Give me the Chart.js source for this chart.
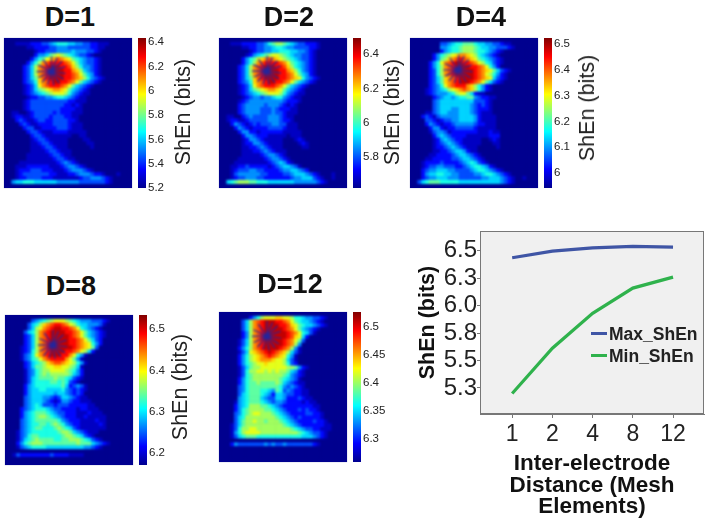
<!DOCTYPE html>
<html>
<head>
<meta charset="utf-8">
<title>ShEn vs inter-electrode distance</title>
<script src="https://cdn.jsdelivr.net/npm/chart.js@4"></script>
<style>
html, body { margin: 0; padding: 0; background: #fff; }
#page { position: relative; width: 709px; height: 522px; overflow: hidden; font-family: "Liberation Sans", Arial, sans-serif; }
#page canvas { position: absolute; }
.map { position: absolute; overflow: hidden; background: #00008f; box-shadow: 0 0 1px #8f93c8; }
.map canvas { filter: blur(1px); left: 0; top: 0; }
.ttl { position: absolute; font-weight: bold; font-size: 27px; line-height: 30px; transform: translateX(-50%); color: #111; white-space: nowrap; }
.bar { position: absolute; font-size: 21.5px; line-height: 24px; color: #222; white-space: nowrap; transform: translate(-50%, -50%) rotate(-90deg); }
.lgd { position: absolute; font-weight: bold; font-size: 17.5px; line-height: 20px; color: #222; white-space: nowrap; }
.lgl { position: absolute; width: 16px; height: 3px; }
</style>
</head>
<body>
<div id="page"></div>
<script>
// heat levels, one hex digit per cell: 0 = bottom of colour bar, f = top
const heatD1 = [
'00111122233456665544332211100000',
'00000112222334443333332211000000',
'00000001223334444544433210000000',
'00000002445789876543321000000000',
'00000024679abcba9765433210000000',
'000002468bcddddcb975433210000000',
'00002358bcdeeeddca86443210000000',
'00002358bcdeeeeddba8543210000000',
'00002358bcdeeeeddcb9754210000000',
'00002357acdeeeeddcba864321000000',
'00002346abcdeeddcb97543210000000',
'000012359bcdddcb9754321000000000',
'00001235789abba97543210000000000',
'00001234567899986432110000000000',
'00000122334456654321100000000000',
'00001233333333332211100000000000',
'00001233333333322121000000000000',
'00001233333333222211000000000000',
'01100123333323222111000000000000',
'01221123333233322110000000000000',
'00232112332233332210000000000000',
'00023211222233332111000000000000',
'00002331122223332111000000000000',
'00000233211122221111100000000000',
'00000023321111111001100000000000',
'00000012332111110000110000000000',
'00000011233211110000011000000000',
'00000011123321110000001000000000',
'00000011112332111000000000000000',
'00000111111233211000000000000000',
'00000111111123321100000000000000',
'00011111111112343210000000000000',
'00111222222111234432100000000000',
'00122233322211123444321000000000',
'00123333333221112234443221000100',
'00122333322211111112334443210000',
'04556665555554444443333333210000'];
const heatD2 = [
'00111222233467887654332221000000',
'00000112233445665443333221000000',
'00000001233445566655443210000000',
'00000012456789987654433210000000',
'0000024679abcba98765433210000000',
'000002468bcddddcb976543210000000',
'00002358bcdeeeddca86543210000000',
'00002358bcdeeeeddba8643210000000',
'00002358bcdeeeeddcb9754210000000',
'00002357acdeeeeddcba964321000000',
'00002346abcdeeddcb97543210000000',
'000012359bcdddcb9754321000000000',
'00001235789abba97543210000000000',
'00001234567899986432110000000000',
'00000123443445664321100000000000',
'00001234444444443222100000000000',
'00002344444344432121000000000000',
'00002344443334322211000000000000',
'00002344443334332111000000000000',
'01100234333344432110000000000000',
'01221123333344432210000000000000',
'00243212323334433111000000000000',
'00024321222233332111000000000000',
'00002442212222221111100000000000',
'00000244322211111011100000000000',
'00000124432111110001210000000000',
'00000122443211110000121000000000',
'00000112234321110000011000000000',
'00000111223432111000000000000000',
'00000111112344321000000000000000',
'00001111111234432100000000000000',
'00011111111123454210000000000000',
'00112232222212345543100000000000',
'00123334433222234455432000000000',
'00134444443322223345554321000100',
'00123344433222222234455532100100',
'05678887766655555554444443210000'];
const heatD4 = [
'00000003345667776554433211000000',
'00000004456678887655443332100000',
'00000002456678887665432100000000',
'00000246789abba98654321000000000',
'000002478abcdcba9765432100000000',
'00002469bcdeeddcb986532100000000',
'00002468bcdeeeeddcb9642000000000',
'00002368bcdeeeeedcba975321000000',
'00002368bcdeeeeedcb9864210000000',
'00002357abcdeeeedcba953210000000',
'00002357abcdeeedcb97532100000000',
'000023469bcdddba8642100000000000',
'00012345689abcba8642100000000000',
'00012344456899752110000000000000',
'00000234554566774322110000000000',
'00000345555555553332100000000000',
'00000345555555543232100000000000',
'00000345554455543222100000000000',
'00011345544455543211100000000000',
'00232134444455554211110000000000',
'00033212334455554211110000000000',
'00024321223444443221110000000000',
'00002442122333332111110000000000',
'00001344312222222111211000000000',
'00000245432222111111222000000000',
'00000124543221111100121000000000',
'00000123454321111100011000000000',
'00000122345432111000001000000000',
'00000112234554211000000000000000',
'00001122223455432100000000000000',
'00011222223345543210000000000000',
'00122223222234565321000000000000',
'00123344333223456654210000000000',
'00234455544333345665432100000000',
'00245566554433334456654321000000',
'00234455544433333344555432100100',
'03567776666655555555555432100000'];
const heatD8 = [
'00000034567899987654443332100000',
'000003568abcddcb9865544431000000',
'000003589bcdeeddcb96543210000000',
'00003568bcdeeeeddcb9754321000000',
'00002358bcdeeeeedcb9754321000000',
'00002358bcdeeeeeddcb975320000000',
'00002358bcdeeeeeddcba96420000000',
'00012358bcdeeeeeedcba97300000000',
'00012368bcdeeeeddcb9852000000000',
'00013469bcdeeeddb964100000000000',
'000134679bcddddb9741000000000000',
'0000235678abccba9864100000000000',
'000023577899aa998751000000000000',
'00001346788999987642000000000000',
'00001346787888887542000000000000',
'00001356777787765321000000000000',
'00001356666776763210000000000000',
'00002456666666752343100000000000',
'00002455665555643232100000000000',
'00002455555545543232000000000000',
'00003455544323554321100000000000',
'00003455543212443221110000000000',
'00003456533323332222211000000000',
'00023456665433222212211100000000',
'00024567776543322211121110000000',
'00024567887654322211211111000000',
'00034567777776432221111211000000',
'00034566776787643221111121000000',
'00034567766678765321111111000000',
'00134566666667887543211100000000',
'00134677666666788765321000000000',
'00135678777766778887653210000000',
'00246788877777777787775432100000',
'00134566665555555555443210000000',
'00000000000000000000000000000000',
'01322222222322221111000000000000',
'00000000000000000000000000000000'];
const heatD12 = [
'00000002468999aa9986654433210000',
'00000358bcdeeeddcb97655432100000',
'00000358bcdeeeeddca9765543210000',
'00000358bcdeeeeedcb9754321000000',
'00000248bcdeeeeeedcb965310000000',
'00000248bcdeeeeeedca952000000000',
'00001358bcdeeeeedcb9730000000000',
'00001358bcdeeeeedcb8400000000000',
'00002468bcdeeeedcb84100000000000',
'00001359abcdedcba853100000000000',
'000024689abcdcba9641000000000000',
'000024689abbba998531000000000000',
'00002467899a99998632000000000000',
'00001357889999999887421000000000',
'00001368899898988754210000000000',
'00001367888888887643210000000000',
'00002467888888876543100000000000',
'00002467787777875432110000000000',
'00003467777777764343210000000000',
'00003467776654763432211000000000',
'00003567776542554332211000000000',
'00004567775433554222321100000000',
'00014567776543443222212110000000',
'00024568887765432222222211000000',
'00024678888776543222323221000000',
'00034678998887654322223322100000',
'00035688888888765432322222100000',
'00035788988788876543222232210000',
'00135788888888887654322222211000',
'00136889988888888876543322111000',
'00146899998888888888765433210000',
'00135677766666666666655543210000',
'00000000000000000000000000000000',
'00243333333434334333333321000000',
'00000000000000000000000000000000',
'00000000000000000000000000000000',
'00000000000000000000000000000000'];

const elecTipX = [0.2, 1.6, 2.9, 3.7, 3.9, 3.3, 2.2, 0.7, -0.9, -2.4, -3.4, -3.9, -3.5, -2.2];
const elecTipY = [-3.9, -3.5, -2.6, -1.2, 0.6, 2.1, 3.1, 3.7, 3.5, 2.9, 1.7, 0.1, -1.6, -3.1];

const panelNames = ['D=1', 'D=2', 'D=4', 'D=8', 'D=12'];
const panelHeat = [heatD1, heatD2, heatD4, heatD8, heatD12];
const elecCentreX = [11.5, 11.6, 11.7, 11.6, 11.6];
const elecCentreY = [7.6, 7.5, 7.2, 6.7, 5.2];
const barMin = [5.2, 5.618, 5.941, 6.171, 6.259];
const barMax = [6.433, 6.494, 6.524, 6.534, 6.527];
const barTicks = [
  [5.2, 5.4, 5.6, 5.8, 6, 6.2, 6.4],
  [5.8, 6, 6.2, 6.4],
  [6, 6.1, 6.2, 6.3, 6.4, 6.5],
  [6.2, 6.3, 6.4, 6.5],
  [6.3, 6.35, 6.4, 6.45, 6.5]
];

const distances = ['1', '2', '4', '8', '12'];
const maxShEn = [6.436, 6.497, 6.527, 6.54, 6.533];
const minShEn = [5.2, 5.612, 5.93, 6.16, 6.26];
const shEnTicks = [5.25, 5.5, 5.75, 6, 6.25, 6.5];

// layout of each panel: map left/top, bar left, title centre, bar label centre (D=12 has no bar label)
const layout = [
  { x: 4, y: 38, bx: 138, tx: 70, ty: 2, lx: 183, ly: 112 },
  { x: 219, y: 38, bx: 353, tx: 289, ty: 2, lx: 392, ly: 112 },
  { x: 410, y: 38, bx: 544, tx: 481, ty: 2, lx: 587, ly: 108 },
  { x: 5, y: 315, bx: 139, tx: 71, ty: 271, lx: 180, ly: 387 },
  { x: 219, y: 312, bx: 353, tx: 290, ty: 269 }
];

const COLS = 32, ROWS = 37, MAP_W = 128, MAP_H = 150, BAR_W = 8;
const page = document.getElementById('page');
Chart.defaults.font.family = '"Liberation Sans", Arial, sans-serif';
Chart.defaults.animation = false;
Chart.defaults.plugins.legend.display = false;
Chart.defaults.plugins.tooltip.enabled = false;

function jet(f) {
  f = Math.max(f, 0.015);
  const c = t => Math.round(255 * Math.max(0, Math.min(1, 1.5 - Math.abs(4 * f - t))));
  return `rgb(${c(3)},${c(2)},${c(1)})`;
}

function addCanvas(parent, left, top, w, h) {
  const cv = document.createElement('canvas');
  cv.width = w; cv.height = h;
  cv.style.left = left + 'px'; cv.style.top = top + 'px';
  cv.style.width = w + 'px'; cv.style.height = h + 'px';
  parent.appendChild(cv);
  return cv;
}

function addText(cls, left, top, text) {
  const el = document.createElement('div');
  el.className = cls;
  el.style.left = left + 'px'; el.style.top = top + 'px';
  el.textContent = text;
  page.appendChild(el);
  return el;
}

function noEdgePadding(s) {
  s.paddingTop = 0; s.paddingBottom = 0; s.paddingLeft = 0; s.paddingRight = 0;
}

function drawMap(i) {
  const p = layout[i];
  const wrap = document.createElement('div');
  wrap.className = 'map';
  wrap.style.cssText = `left:${p.x}px;top:${p.y}px;width:${MAP_W}px;height:${MAP_H}px`;
  page.appendChild(wrap);
  const cells = [], colors = [];
  panelHeat[i].forEach((row, r) => {
    for (let c = 0; c < row.length; c++) {
      const lvl = parseInt(row[c], 16);
      cells.push({ x: c + 0.5, y: r + 0.5 });
      colors.push(jet(lvl / 15));
    }
  });
  const star = [];
  elecTipX.forEach((dx, k) => {
    star.push({ x: elecCentreX[i], y: elecCentreY[i] });
    star.push({ x: elecCentreX[i] + dx, y: elecCentreY[i] + elecTipY[k] });
  });
  new Chart(addCanvas(wrap, 0, 0, MAP_W, MAP_H), {
    type: 'scatter',
    data: { datasets: [
      { data: star, showLine: true, borderColor: '#26249a', borderWidth: 1.2, pointRadius: 0, order: 0 },
      { data: cells, pointStyle: 'rect', pointRadius: 3.1, pointBorderWidth: 0, borderWidth: 0,
        pointBackgroundColor: colors, backgroundColor: colors, order: 1 }
    ] },
    options: {
      responsive: false,
      layout: { padding: 0 },
      scales: {
        x: { display: false, min: 0, max: COLS },
        y: { display: false, min: 0, max: ROWS, reverse: true }
      }
    }
  });
}

function drawBar(i) {
  const p = layout[i], pad = 8, w = 44;
  const stops = [0, 0.125, 0.375, 0.625, 0.875, 1];
  new Chart(addCanvas(page, p.bx, p.y - pad, w, MAP_H + 2 * pad), {
    type: 'bar',
    data: { labels: [panelNames[i]], datasets: [{
      data: [[barMin[i], barMax[i]]],
      barPercentage: 1, categoryPercentage: 1, borderWidth: 0, borderSkipped: false,
      backgroundColor: ctx => {
        const area = ctx.chart.chartArea;
        if (!area) return '#000';
        const g = ctx.chart.ctx.createLinearGradient(0, area.bottom, 0, area.top);
        stops.forEach(s => g.addColorStop(s, jet(s)));
        return g;
      }
    }] },
    options: {
      responsive: false,
      layout: { padding: { top: pad, bottom: pad, left: 0, right: 0 } },
      scales: {
        x: { display: false },
        y: {
          position: 'right', min: barMin[i], max: barMax[i],
          border: { display: false },
          grid: { drawOnChartArea: false, drawTicks: false },
          afterFit: s => { s.width = w - BAR_W; noEdgePadding(s); },
          afterBuildTicks: s => { s.ticks = barTicks[i].map(v => ({ value: v })); },
          ticks: { color: '#222', font: { size: 11.5 }, padding: 2, callback: v => String(v) }
        }
      }
    }
  });
}

panelNames.forEach((name, i) => {
  const p = layout[i];
  drawMap(i);
  drawBar(i);
  addText('ttl', p.tx, p.ty, name);
  if (p.lx) addText('bar', p.lx, p.ly, 'ShEn (bits)');
});

// grey plot box behind the lines
const plotBox = {
  id: 'plotBox',
  beforeDraw(chart) {
    const a = chart.chartArea, c = chart.ctx;
    c.save();
    c.fillStyle = '#f0f0f0';
    c.fillRect(a.left, a.top, a.width, a.height);
    c.restore();
  },
  afterDraw(chart) {
    const a = chart.chartArea, c = chart.ctx;
    c.save();
    c.strokeStyle = '#777';
    c.lineWidth = 1;
    c.strokeRect(a.left + 0.5, a.top + 0.5, a.width - 1, a.height - 1);
    c.restore();
  }
};

const lineColors = ['#3f55a5', '#2fb24c'];
new Chart(addCanvas(page, 405, 220, 304, 302), {
  type: 'line',
  data: { datasets: [
    { label: 'Max_ShEn', data: maxShEn.map((v, i) => ({ x: i, y: v })), borderColor: lineColors[0], borderWidth: 3.2, pointRadius: 0, tension: 0 },
    { label: 'Min_ShEn', data: minShEn.map((v, i) => ({ x: i, y: v })), borderColor: lineColors[1], borderWidth: 3.2, pointRadius: 0, tension: 0 }
  ] },
  plugins: [plotBox],
  options: {
    responsive: false,
    layout: { padding: { top: 11, right: 5, left: 0, bottom: 0 } },
    scales: {
      x: {
        type: 'linear', min: -0.8, max: 4.77,
        border: { color: '#777' },
        grid: { drawOnChartArea: false, tickLength: 4, color: '#777' },
        afterFit: s => { s.height = 108; noEdgePadding(s); },
        afterBuildTicks: s => { s.ticks = distances.map((d, i) => ({ value: i })); },
        ticks: { color: '#222', font: { size: 23 }, padding: 3, maxRotation: 0, callback: v => distances[v] },
        title: {
          display: true, text: ['Inter-electrode', 'Distance (Mesh', 'Elements)'],
          color: '#111', font: { size: 22.5, weight: 'bold', lineHeight: 0.96 }, padding: { top: 0, bottom: 4 }
        }
      },
      y: {
        min: 5.013, max: 6.68,
        border: { color: '#777' },
        grid: { drawOnChartArea: false, tickLength: 3, color: '#777' },
        afterFit: s => { s.width = 75; noEdgePadding(s); },
        afterBuildTicks: s => { s.ticks = shEnTicks.map(v => ({ value: v })); },
        ticks: { color: '#222', font: { size: 24 }, padding: 0, callback: v => v.toFixed(1) },
        title: {
          display: true, text: 'ShEn (bits)', color: '#111',
          font: { size: 21.5, weight: 'bold' }, padding: { top: 10, bottom: 0 }
        }
      }
    }
  }
});

// legend inside the plot
['Max_ShEn', 'Min_ShEn'].forEach((name, i) => {
  const y = 334 + i * 22;
  addText('lgd', 609, y - 10, name);
  const ln = addText('lgl', 591, y - 2, '');
  ln.style.background = lineColors[i];
});
</script>
</body>
</html>
